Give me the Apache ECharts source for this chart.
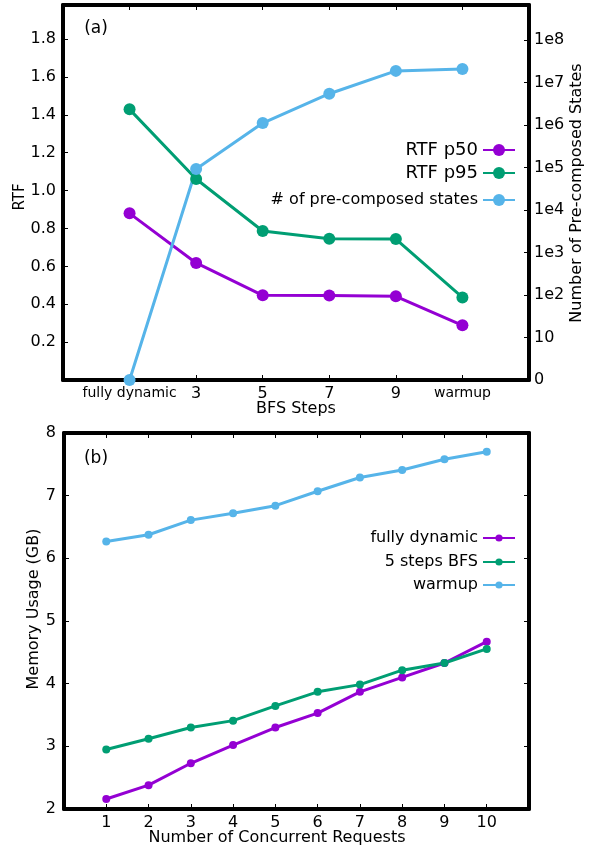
<!DOCTYPE html>
<html>
<head>
<meta charset="utf-8">
<script src="https://cdn.jsdelivr.net/npm/echarts@6/dist/echarts.min.js"></script>
<style>html,body{margin:0;padding:0;background:#fff}#c{width:596px;height:850px}</style>
</head>
<body>
<div id="c"></div>
<script>
// ---- data: panel (a) ----
const bfsLabels = ['fully dynamic', '3', '5', '7', '9', 'warmup'];
const rtfP50 = [0.880, 0.618, 0.447, 0.446, 0.442, 0.289];
const rtfP95 = [1.429, 1.061, 0.787, 0.746, 0.744, 0.436];
const precomposedStates = [0, 93000, 1120000, 5500000, 19000000, 21000000];
const stateTickLabels = ['0', '10', '1e2', '1e3', '1e4', '1e5', '1e6', '1e7', '1e8'];
// ---- data: panel (b) ----
const requests = [1, 2, 3, 4, 5, 6, 7, 8, 9, 10];
const memFullyDynamic = [2.16, 2.38, 2.73, 3.02, 3.30, 3.53, 3.87, 4.10, 4.33, 4.67];
const memBfs5 = [2.95, 3.12, 3.30, 3.41, 3.645, 3.87, 3.985, 4.215, 4.33, 4.555];
const memWarmup = [6.27, 6.377, 6.61, 6.72, 6.84, 7.07, 7.29, 7.41, 7.58, 7.70];

const PURPLE = '#9400D3', GREEN = '#009E73', BLUE = '#56B4E9';
const FONT = 'DejaVu Sans';

// symlog-like position (linear below 10, log10 above)
function symlog(v) { return v <= 0 ? 0 : (v < 10 ? v / 10 : Math.log10(v)); }

const axisLine = { show: true, onZero: false, lineStyle: { color: '#000', width: 4 } };
const axisTick = { show: true, inside: true, length: 5, lineStyle: { color: '#000', width: 1 } };
const noLabel = { show: false };

function pairs(xs, ys, f) { return ys.map((y, i) => [xs[i], f ? f(y) : y]); }
const bfsX = bfsLabels.map((_, i) => i + 1);

const chart = echarts.init(document.getElementById('c'), null, { renderer: 'canvas' });

function legendItem(name, top, fontSize, itemHeight) {
  return {
    data: [name], orient: 'vertical', align: 'right', right: 80, top: top,
    padding: 0, itemWidth: 32, itemHeight: itemHeight, selectedMode: false,
    textStyle: { fontFamily: FONT, fontSize: fontSize, color: '#000' }
  };
}

chart.setOption({
  animation: false,
  textStyle: { fontFamily: FONT },
  grid: [
    { left: 63, right: 67, top: 5, height: 375 },
    { left: 64, right: 67, top: 433, height: 376 }
  ],
  legend: [
    legendItem('RTF p50', 141, 18, 15),
    legendItem('RTF p95', 164, 18, 15),
    legendItem('# of pre-composed states', 192, 16, 15),
    legendItem('fully dynamic', 530, 16, 9),
    legendItem('5 steps BFS', 554, 16, 9),
    legendItem('warmup', 577, 16, 9)
  ],
  xAxis: [
    { gridIndex: 0, type: 'value', min: 0, max: 7, interval: 1, position: 'bottom',
      axisLine, axisTick, splitLine: { show: false },
      axisLabel: { margin: 6, color: '#000',
        formatter: v => { const l = bfsLabels[v - 1]; if (!l) return ''; return isNaN(+l) ? '{t|' + l + '}' : '{n|' + l + '}'; },
        rich: { t: { fontSize: 14, fontFamily: FONT, color: '#000' }, n: { fontSize: 16, fontFamily: FONT, color: '#000' } } } },
    { gridIndex: 0, type: 'value', min: 0, max: 7, interval: 1, position: 'top',
      axisLine, axisTick, splitLine: { show: false }, axisLabel: noLabel },
    { gridIndex: 1, type: 'value', min: 0, max: 11, interval: 1, position: 'bottom',
      axisLine, axisTick, splitLine: { show: false },
      axisLabel: { margin: 6, color: '#000', fontSize: 16, formatter: v => (v >= 1 && v <= 10) ? String(v) : '' } },
    { gridIndex: 1, type: 'value', min: 0, max: 11, interval: 1, position: 'top',
      axisLine, axisTick, splitLine: { show: false }, axisLabel: noLabel }
  ],
  yAxis: [
    { gridIndex: 0, type: 'value', min: 0, max: 1.98, interval: 0.2, position: 'left',
      axisLine, axisTick, splitLine: { show: false },
      axisLabel: { margin: 7, color: '#000', fontSize: 16, formatter: v => (v > 0.1 && v < 1.9) ? v.toFixed(1) : '' } },
    { gridIndex: 0, type: 'value', min: 0, max: 8.83, interval: 1, position: 'right',
      axisLine, axisTick, splitLine: { show: false },
      axisLabel: { margin: 5, color: '#000', fontSize: 16, formatter: v => (Number.isInteger(v) && stateTickLabels[v] !== undefined) ? stateTickLabels[v] : '' } },
    { gridIndex: 1, type: 'value', min: 2, max: 8, interval: 1, position: 'left',
      axisLine, axisTick, splitLine: { show: false },
      axisLabel: { margin: 8, color: '#000', fontSize: 16 } },
    { gridIndex: 1, type: 'value', min: 2, max: 8, interval: 1, position: 'right',
      axisLine, axisTick, splitLine: { show: false }, axisLabel: noLabel }
  ],
  series: [
    { name: 'RTF p50', type: 'line', xAxisIndex: 0, yAxisIndex: 0, data: pairs(bfsX, rtfP50),
      color: PURPLE, symbol: 'circle', symbolSize: 12, lineStyle: { width: 3 }, clip: false },
    { name: 'RTF p95', type: 'line', xAxisIndex: 0, yAxisIndex: 0, data: pairs(bfsX, rtfP95),
      color: GREEN, symbol: 'circle', symbolSize: 12, lineStyle: { width: 3 }, clip: false },
    { name: '# of pre-composed states', type: 'line', xAxisIndex: 0, yAxisIndex: 1, data: pairs(bfsX, precomposedStates, symlog),
      color: BLUE, symbol: 'circle', symbolSize: 12, lineStyle: { width: 3 }, clip: false },
    { name: 'fully dynamic', type: 'line', xAxisIndex: 2, yAxisIndex: 2, data: pairs(requests, memFullyDynamic),
      color: PURPLE, symbol: 'circle', symbolSize: 8, lineStyle: { width: 3 }, clip: false },
    { name: '5 steps BFS', type: 'line', xAxisIndex: 2, yAxisIndex: 2, data: pairs(requests, memBfs5),
      color: GREEN, symbol: 'circle', symbolSize: 8, lineStyle: { width: 3 }, clip: false },
    { name: 'warmup', type: 'line', xAxisIndex: 2, yAxisIndex: 2, data: pairs(requests, memWarmup),
      color: BLUE, symbol: 'circle', symbolSize: 8, lineStyle: { width: 3 }, clip: false }
  ],
  graphic: [
    { type: 'text', x: 96, y: 29, style: { text: '(a)', fontFamily: FONT, fontSize: 17, fill: '#000', align: 'center', verticalAlign: 'middle' } },
    { type: 'text', x: 96, y: 459, style: { text: '(b)', fontFamily: FONT, fontSize: 17, fill: '#000', align: 'center', verticalAlign: 'middle' } },
    { type: 'text', x: 20, y: 197, rotation: Math.PI / 2, style: { text: 'RTF', fontFamily: FONT, fontSize: 15, fill: '#000', align: 'center', verticalAlign: 'middle' } },
    { type: 'text', x: 577, y: 193, rotation: Math.PI / 2, style: { text: 'Number of Pre-composed States', fontFamily: FONT, fontSize: 16, fill: '#000', align: 'center', verticalAlign: 'middle' } },
    { type: 'text', x: 296, y: 409, style: { text: 'BFS Steps', fontFamily: FONT, fontSize: 16, fill: '#000', align: 'center', verticalAlign: 'middle' } },
    { type: 'text', x: 34, y: 609, rotation: Math.PI / 2, style: { text: 'Memory Usage (GB)', fontFamily: FONT, fontSize: 16, fill: '#000', align: 'center', verticalAlign: 'middle' } },
    { type: 'text', x: 277, y: 838, style: { text: 'Number of Concurrent Requests', fontFamily: FONT, fontSize: 16, fill: '#000', align: 'center', verticalAlign: 'middle' } }
  ]
});
</script>
</body>
</html>
